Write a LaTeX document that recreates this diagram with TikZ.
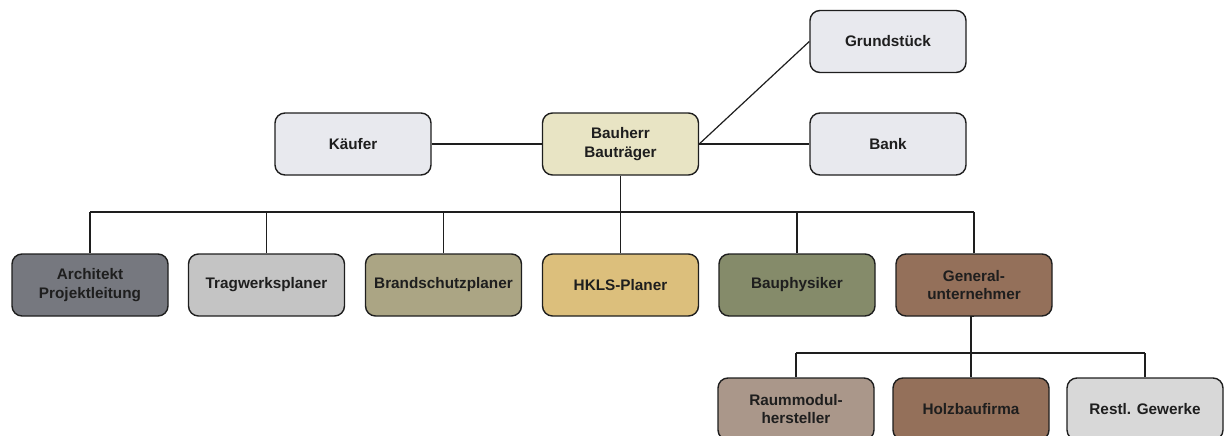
\documentclass[tikz,border=0pt]{standalone}
\usepackage{fontspec}
\setmainfont{Liberation Sans}
\begin{document}
\definecolor{cPale}{HTML}{E8E9EE}
\definecolor{cCream}{HTML}{E8E4C4}
\definecolor{cSlate}{HTML}{76787F}
\definecolor{cSilver}{HTML}{C4C4C4}
\definecolor{cKhaki}{HTML}{ABA584}
\definecolor{cSand}{HTML}{DCBF7C}
\definecolor{cOlive}{HTML}{858B6A}
\definecolor{cBrown}{HTML}{94705A}
\definecolor{cTaupe}{HTML}{AA978A}
\definecolor{cLight}{HTML}{D8D8D8}
\definecolor{cInk}{HTML}{1E1E1E}
\begin{tikzpicture}[x=1pt,y=-1pt,
  box/.style={draw=cInk, line width=1.4pt, rounded corners=10pt,
    minimum width=156pt, minimum height=62pt, align=center,
    font=\fontsize{15.3}{18.5}\selectfont\bfseries, text=cInk, inner sep=2pt},
  link/.style={draw=cInk, line width=1.2pt}]
\useasboundingbox (0,0) rectangle (1229,436);
\begin{scope}
\clip (0,0) rectangle (1229,436);
% top level
\node[box, fill=cPale]  (grund)  at (888,41.5) {Grundstück};
\node[box, fill=cPale]  (bank)   at (888,144)  {Bank};
\node[box, fill=cPale]  (kaeufer) at (353,144) {Käufer};
\node[box, fill=cCream] (bauherr) at (620.5,144) {Bauherr\\Bauträger};
% planners
\node[box, fill=cSlate]  (arch)  at (90,285)    {Architekt\\Projektleitung};
\node[box, fill=cSilver] (trag)  at (266.5,285) {Tragwerksplaner};
\node[box, fill=cKhaki]  (brand) at (443.5,285) {Brandschutzplaner};
\node[box, fill=cSand]   (hkls)  at (620.5,285) {HKLS-Planer};
\node[box, fill=cOlive]  (phys)  at (797,285)   {Bauphysiker};
\node[box, fill=cBrown]  (gu)    at (974,285)   {General-\\unternehmer};
% trades
\node[box, fill=cTaupe]  (raum)  at (796,409)   {Raummodul-\\hersteller};
\node[box, fill=cBrown]  (holz)  at (971,409)   {Holzbaufirma};
\node[box, fill=cLight]  (restl) at (1145,409)  {Restl. Gewerke};

% connectors of the top level
\draw[link] (kaeufer.east) -- (bauherr.west);
\draw[link] (bauherr.east) -- (bank.west);
\draw[link] (bauherr.east) -- (grund.west);

% bus to the planners
\coordinate (busA) at (90,212);
\coordinate (busB) at (974,212);
\draw[link] (busA) -- (busB);
\draw[link] (bauherr.south) -- (bauherr.south |- busA);
\foreach \n in {arch,trag,brand,hkls,phys,gu}
  \draw[link] (\n.north) -- (\n.north |- busA);

% bus to the trades
\coordinate (busC) at (796,353);
\draw[link] (raum.north |- busC) -- (restl.north |- busC);
\draw[link] (gu.south) -- (gu.south -| holz.north) -- (holz.north);
\draw[link] (raum.north) -- (raum.north |- busC);
\draw[link] (restl.north) -- (restl.north |- busC);
\end{scope}
\end{tikzpicture}
\end{document}
